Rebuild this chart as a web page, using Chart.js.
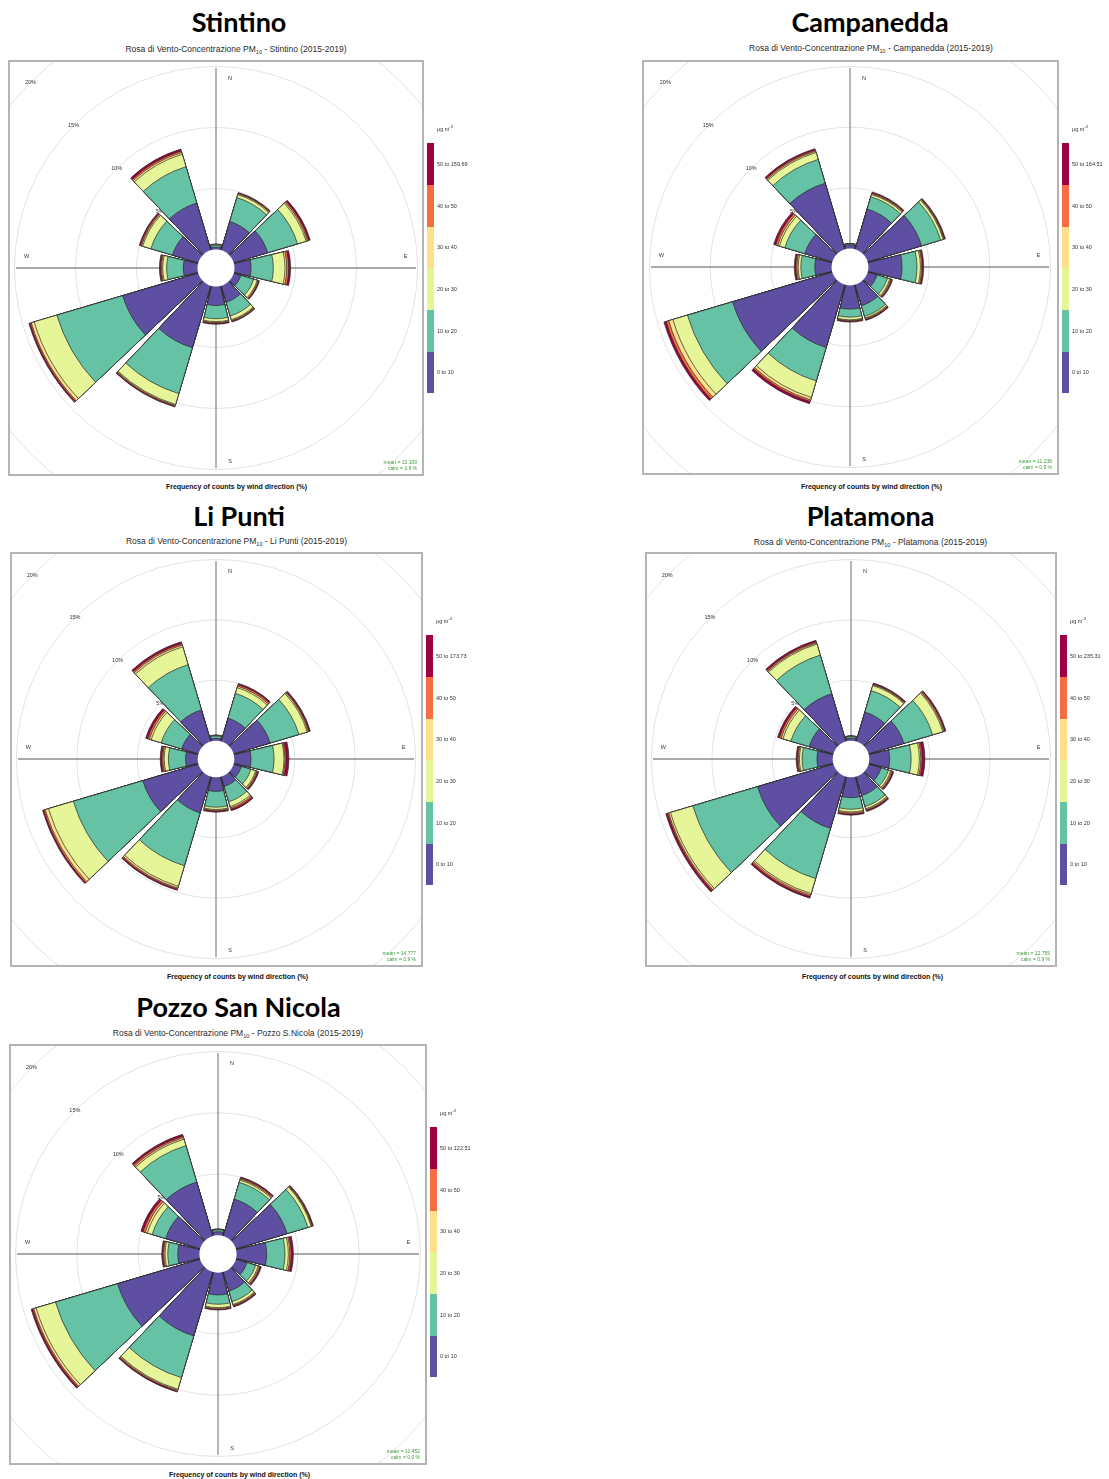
<!DOCTYPE html>
<html><head><meta charset="utf-8">
<script src="https://cdn.jsdelivr.net/npm/chart.js@4.4.1/dist/chart.umd.min.js"></script>
<style>
html,body{margin:0;padding:0;background:#fff;}
body{width:1109px;height:1479px;position:relative;overflow:hidden;font-family:"Liberation Sans",Arial,sans-serif;}
.abs{position:absolute;}
.title{font-family:Lato,"Open Sans",sans-serif;font-weight:700;font-size:27px;line-height:27px;white-space:nowrap;transform:translateX(-50%);color:#000;}
.sub{font-size:8.5px;line-height:10px;color:#2a2a2a;white-space:nowrap;transform:translateX(-50%);}
.sub sub{font-size:5.5px;vertical-align:-1.5px;line-height:0;}
.xlab{font-size:7px;font-weight:700;line-height:10px;color:#111;white-space:nowrap;transform:translateX(-50%);}
.box{border:2px solid #b4b4b4;box-sizing:border-box;}
.stat{font-size:5px;line-height:6px;color:#3c9a3c;text-align:right;white-space:nowrap;transform:translateX(-100%);}
.seg{position:absolute;width:7px;}
.lab{position:absolute;font-size:5.5px;line-height:6px;color:#333;white-space:nowrap;}
</style>
</head><body>
<script>
// ---------- data ----------
const directions = ['N','30','60','E','120','150','S','210','240','W','300','330'];
const bandLabels = ['0 to 10','10 to 20','20 to 30','30 to 40','40 to 50'];
const bandColors = ['#5E4FA2','#66C2A5','#E6F598','#FEE08B','#F46D43','#9E0142'];
const ringTicks = [5,10,15,20];
const compassLabels = ['N','E','S','W'];

const stationNames = ['Stintino','Campanedda','Li Punti','Platamona','Pozzo San Nicola'];
const subtitleNames = ['Stintino','Campanedda','Li Punti','Platamona','Pozzo S.Nicola'];
const topBandLabels = ['50 to 159.69','50 to 164.51','50 to 173.73','50 to 235.31','50 to 122.51'];
const meanValues = ['13.109','11.236','14.777','12.755','11.452'];
const calmValues = ['3.9','0.9','0.9','0.9','0.0'];

// frequency (%) per concentration band (rows) and wind direction (columns: N,30,...,330)
const stintinoFreq = [
  [0.20,2.45,2.90,1.35,0.60,1.40,1.55,5.30,6.46,1.16,2.20,4.03],
  [0.15,2.05,2.55,1.83,1.10,1.18,1.09,3.92,5.63,1.37,1.85,3.11],
  [0.05,0.25,0.74,0.96,0.30,0.32,0.24,0.93,1.94,0.32,0.70,1.07],
  [0.02,0.08,0.11,0.14,0.07,0.07,0.07,0.08,0.25,0.09,0.10,0.15],
  [0.01,0.05,0.11,0.16,0.07,0.07,0.07,0.07,0.10,0.09,0.10,0.13],
  [0.01,0.05,0.13,0.16,0.06,0.06,0.07,0.07,0.10,0.09,0.09,0.16]
];
const campaneddaFreq = [
  [0.30,3.46,4.63,2.77,0.80,1.80,1.95,5.40,8.57,1.38,2.36,5.68],
  [0.07,1.06,1.64,1.23,0.90,0.92,0.66,2.87,3.88,1.15,1.72,2.04],
  [0.02,0.19,0.22,0.28,0.20,0.14,0.22,1.42,1.25,0.22,0.47,0.60],
  [0.01,0.07,0.06,0.09,0.08,0.07,0.06,0.21,0.36,0.10,0.15,0.11],
  [0.005,0.07,0.06,0.09,0.08,0.07,0.06,0.14,0.22,0.10,0.17,0.10],
  [0.005,0.07,0.07,0.09,0.08,0.07,0.07,0.19,0.19,0.12,0.17,0.12]
];
const liPuntiFreq = [
  [0.20,2.00,3.15,1.38,0.67,0.85,1.16,3.13,4.80,1.00,1.43,2.72],
  [0.18,2.14,2.49,1.91,0.82,1.32,1.31,4.57,6.00,1.42,1.78,3.90],
  [0.05,0.50,0.71,0.82,0.41,0.41,0.19,1.77,2.15,0.35,0.87,1.55],
  [0.01,0.13,0.10,0.08,0.09,0.12,0.07,0.15,0.29,0.10,0.15,0.15],
  [0.01,0.13,0.08,0.10,0.09,0.12,0.07,0.10,0.12,0.10,0.15,0.13],
  [0.01,0.11,0.10,0.23,0.09,0.12,0.08,0.10,0.10,0.13,0.17,0.15]
];
const platamonaFreq = [
  [0.20,2.53,3.05,1.68,1.08,1.63,1.68,4.47,6.55,1.30,2.09,4.11],
  [0.12,1.85,2.48,1.78,0.63,0.95,0.96,4.33,5.59,1.23,1.58,3.34],
  [0.04,0.44,0.88,0.68,0.19,0.19,0.22,1.30,1.93,0.22,0.69,0.95],
  [0.02,0.07,0.09,0.12,0.09,0.08,0.09,0.13,0.15,0.09,0.15,0.10],
  [0.01,0.07,0.09,0.12,0.09,0.08,0.09,0.13,0.10,0.09,0.15,0.10],
  [0.01,0.08,0.09,0.22,0.09,0.09,0.09,0.14,0.15,0.09,0.16,0.13]
];
const pozzoFreq = [
  [0.30,3.15,4.36,2.45,0.94,1.63,1.82,5.45,7.03,1.76,2.93,4.60],
  [0.15,1.43,1.77,1.50,0.74,0.90,0.76,3.55,5.28,0.82,1.15,3.10],
  [0.03,0.19,0.28,0.27,0.22,0.24,0.28,0.99,1.65,0.22,0.42,0.55],
  [0.02,0.09,0.06,0.12,0.09,0.07,0.06,0.08,0.20,0.09,0.18,0.13],
  [0.01,0.09,0.06,0.12,0.09,0.07,0.06,0.08,0.10,0.09,0.18,0.13],
  [0.01,0.09,0.07,0.17,0.09,0.08,0.07,0.08,0.12,0.09,0.18,0.15]
];
const stationFreqs = [stintinoFreq, campaneddaFreq, liPuntiFreq, platamonaFreq, pozzoFreq];

// ---------- layout ----------
const boxes = [ // left, top, width, height
  [8,60,416,416],[642,60,417,415],[10,552,413,415],[645,552,412,415],[9,1044,418,421]
];
const titlePos = [[239,8],[870,8],[239,502],[870.5,502],[238.5,993]];
const subPos = [[236,44],[871,43],[236.5,536],[870.5,537],[238,1028]];
const xlabPos = [[236.5,482],[871.5,482],[237.5,972],[872.5,972],[239.5,1470]];

const WEDGE = 27, GAP = 3;
const SCALE_MIN = -1.52, SCALE_MAX = 15.37;

function el(cls, html, x, y){
  const d = document.createElement('div');
  d.className = 'abs ' + cls; d.innerHTML = html;
  d.style.left = x + 'px'; d.style.top = y + 'px';
  document.body.appendChild(d); return d;
}

const decorPlugin = {
  id: 'decor',
  beforeDatasetsDraw(chart){
    const s = chart.scales.r, ctx = chart.ctx;
    const cx = s.xCenter, cy = s.yCenter, D = s.drawingArea, L = D - 6;
    ctx.save();
    ctx.strokeStyle = '#8e8e8e'; ctx.lineWidth = 1.3;
    ctx.beginPath();
    ctx.moveTo(cx, cy - L); ctx.lineTo(cx, cy + L);
    ctx.moveTo(cx - L, cy); ctx.lineTo(cx + L, cy);
    ctx.stroke();
    ctx.fillStyle = '#333';
    ctx.font = '5.5px "Liberation Sans", Arial';
    ctx.textAlign = 'center'; ctx.textBaseline = 'middle';
    const k = 0.92 * D;
    ctx.fillText(compassLabels[0], cx + 14, cy - k);
    ctx.fillText(compassLabels[1], cx + k, cy - 12);
    ctx.fillText(compassLabels[2], cx + 14, cy + k + 4);
    ctx.fillText(compassLabels[3], cx - k, cy - 12);
    ringTicks.forEach(v => {
      const r = s.getDistanceFromCenterForValue(v);
      ctx.fillText(v + '%', cx - r * Math.SQRT1_2, cy - r * Math.SQRT1_2);
    });
    ctx.restore();
  },
  afterDatasetsDraw(chart){
    const s = chart.scales.r, ctx = chart.ctx;
    const r0 = s.getDistanceFromCenterForValue(0);
    ctx.save();
    ctx.fillStyle = '#fff';
    ctx.beginPath(); ctx.arc(s.xCenter, s.yCenter, r0, 0, Math.PI * 2); ctx.fill();
    ctx.restore();
  }
};

stationNames.forEach((name, p) => {
  const [bx, by, bw, bh] = boxes[p];
  el('title', name, titlePos[p][0], titlePos[p][1]);
  el('sub', 'Rosa di Vento-Concentrazione PM<sub>10</sub> - ' + subtitleNames[p] + ' (2015-2019)', subPos[p][0], subPos[p][1]);
  el('xlab', 'Frequency of counts by wind direction (%)', xlabPos[p][0], xlabPos[p][1]);

  const box = el('box', '', bx, by);
  box.style.width = bw + 'px'; box.style.height = bh + 'px';
  const cv = document.createElement('canvas');
  cv.width = bw - 4; cv.height = bh - 4;
  cv.style.display = 'block';
  box.appendChild(cv);

  el('stat', 'mean = ' + meanValues[p], bx + bw - 7, by + bh - 17);
  el('stat', 'calm = ' + calmValues[p] + ' %', bx + bw - 7, by + bh - 11);

  // colour bar legend
  const lx = bx + bw + 3, ly = by + 83, segH = 250 / 6;
  const labs = bandLabels.concat([topBandLabels[p]]);
  for (let b = 0; b < 6; b++) {
    const seg = el('seg', '', lx, ly + (5 - b) * segH);
    seg.style.height = (segH + 0.5) + 'px'; seg.style.background = bandColors[b];
    el('lab', labs[b], lx + 10, ly + (5 - b) * segH + segH / 2 - 3);
  }
  el('lab', '&micro;g m<sup style="font-size:4px">-3</sup>', lx + 10, ly - 19);

  // cumulative stacks, interleaved with narrow gap elements
  const freq = stationFreqs[p];
  let acc = new Array(directions.length).fill(0);
  const cum = freq.map(row => { acc = acc.map((v, i) => v + row[i]); return acc.slice(); });
  const labels = [];
  directions.forEach(d => { labels.push(d); labels.push(''); });
  const datasets = cum.map((c, b) => {
    const data = [];
    c.forEach(v => { data.push(v); data.push(0); });
    return {
      label: labs[b],
      data,
      backgroundColor: ctx => ctx.dataIndex % 2 ? 'rgba(0,0,0,0)' : bandColors[b],
      borderColor: ctx => ctx.dataIndex % 2 ? 'rgba(0,0,0,0)' : '#262626',
      borderWidth: 0.7,
      angle: ctx => ctx.dataIndex % 2 ? GAP : WEDGE
    };
  });

  new Chart(cv, {
    type: 'polarArea',
    data: { labels, datasets },
    options: {
      responsive: false,
      animation: false,
      devicePixelRatio: 1,
      events: [],
      layout: { padding: 0 },
      plugins: { legend: { display: false }, tooltip: { enabled: false } },
      scales: {
        r: {
          min: SCALE_MIN, max: SCALE_MAX,
          startAngle: -WEDGE / 2,
          ticks: { display: false },
          pointLabels: { display: false },
          angleLines: { display: false },
          grid: { circular: true, color: '#e3e3e3', lineWidth: 1 },
          afterBuildTicks: sc => { sc.ticks = ringTicks.map(v => ({ value: v })); }
        }
      }
    },
    plugins: [decorPlugin]
  });
});
</script>
</body></html>
